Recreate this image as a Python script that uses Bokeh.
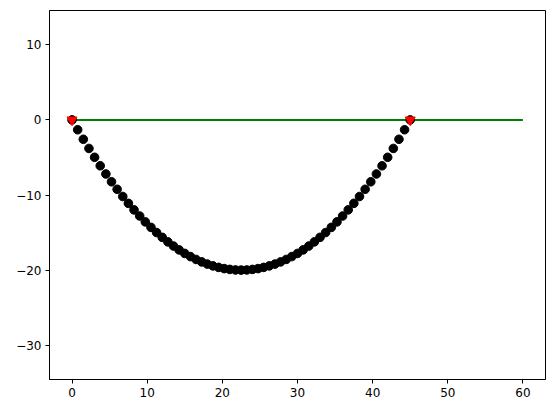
from bokeh.plotting import figure
from bokeh.models import FixedTicker, Range1d
from bokeh.embed import file_html
from bokeh.resources import INLINE

# Data
chain_x = [0.0, 0.75, 1.5, 2.25, 3.0, 3.75, 4.5, 5.25, 6.0, 6.75, 7.5, 8.25, 9.0, 9.75,
           10.5, 11.25, 12.0, 12.75, 13.5, 14.25, 15.0, 15.75, 16.5, 17.25, 18.0, 18.75,
           19.5, 20.25, 21.0, 21.75, 22.5, 23.25, 24.0, 24.75, 25.5, 26.25, 27.0, 27.75,
           28.5, 29.25, 30.0, 30.75, 31.5, 32.25, 33.0, 33.75, 34.5, 35.25, 36.0, 36.75,
           37.5, 38.25, 39.0, 39.75, 40.5, 41.25, 42.0, 42.75, 43.5, 44.25, 45.0]
chain_y = [0.0, -1.31, -2.58, -3.80, -4.98, -6.11, -7.20, -8.24, -9.24, -10.20, -11.11,
           -11.98, -12.80, -13.58, -14.31, -15.00, -15.64, -16.24, -16.80, -17.31, -17.78,
           -18.20, -18.58, -18.91, -19.20, -19.44, -19.64, -19.80, -19.91, -19.98, -20.00,
           -19.98, -19.91, -19.80, -19.64, -19.44, -19.20, -18.91, -18.58, -18.20, -17.78,
           -17.31, -16.80, -16.24, -15.64, -15.00, -14.31, -13.58, -12.80, -11.98, -11.11,
           -10.20, -9.24, -8.24, -7.20, -6.11, -4.98, -3.80, -2.58, -1.31, 0.0]
ground_x = [0, 60]
ground_y = [0, 0]
anchor_x = [0, 45]
anchor_y = [0, 0]
x_ticks = [0, 10, 20, 30, 40, 50, 60]
y_ticks = [-30, -20, -10, 0, 10]

p = figure(frame_width=496, frame_height=369, output_backend="svg", toolbar_location=None,
           x_range=Range1d(-3.0, 63.0), y_range=Range1d(-34.57, 14.57),
           min_border_left=49, min_border_right=9, min_border_top=10, min_border_bottom=34,
           background_fill_color="white", border_fill_color="white")

p.line(ground_x, ground_y, line_color="#008000", line_width=2)
p.scatter(chain_x, chain_y, marker="circle", size=8.6, fill_color="black", line_color="black")
p.scatter(anchor_x, anchor_y, marker="inverted_triangle", size=10, fill_color="red", line_color="red")

p.grid.visible = False
p.outline_line_color = "black"
p.outline_line_width = 1

for ax, ticks in ((p.xaxis, x_ticks), (p.yaxis, y_ticks)):
    ax.ticker = FixedTicker(ticks=ticks)
    ax.major_label_overrides = {t: (str(t).replace("-", "\u2212")) for t in ticks}
    ax.minor_tick_line_color = None
    ax.major_tick_in = 0
    ax.major_tick_out = 4
    ax.axis_line_color = "black"
    ax.major_tick_line_color = "black"
    ax.major_label_text_font = "DejaVu Sans"
    ax.major_label_text_font_size = "12px"
    ax.major_label_text_color = "black"
    ax.major_label_standoff = 4

out = file_html(p, INLINE)
open("out.html", "w").write(out)
